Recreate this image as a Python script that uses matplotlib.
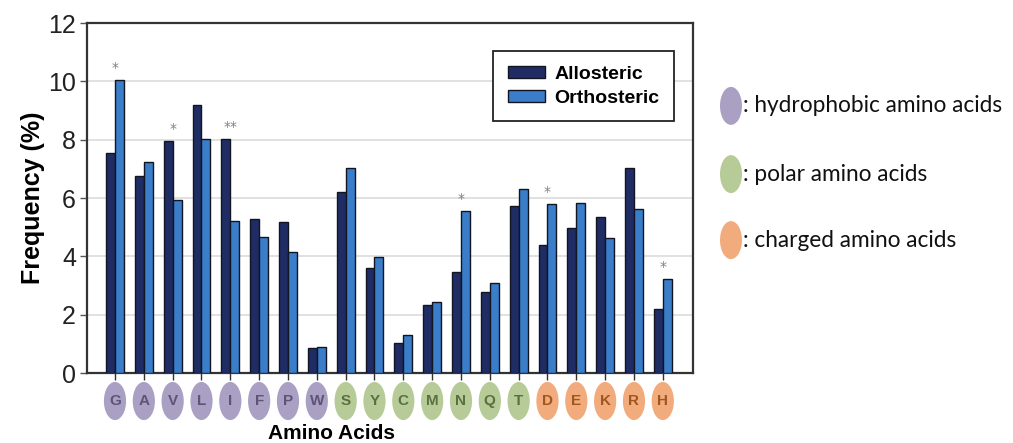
import numpy as np
import matplotlib.pyplot as plt
from matplotlib.patches import Ellipse

# amino acids and their frequencies (%)
amino = ['G', 'A', 'V', 'L', 'I', 'F', 'P', 'W', 'S', 'Y', 'C', 'M', 'N', 'Q', 'T', 'D', 'E', 'K', 'R', 'H']
groups = ['hydrophobic'] * 8 + ['polar'] * 7 + ['charged'] * 5
allosteric = [7.55, 6.77, 7.94, 9.2, 8.02, 5.27, 5.19, 0.86, 6.21, 3.61,
              1.04, 2.33, 3.47, 2.78, 5.74, 4.38, 4.98, 5.36, 7.02, 2.21]
orthosteric = [10.03, 7.24, 5.93, 8.02, 5.2, 4.66, 4.15, 0.89, 7.02, 3.97,
               1.32, 2.42, 5.56, 3.07, 6.32, 5.78, 5.82, 4.63, 5.61, 3.21]
stars = ['*', '', '*', '', '**', '', '', '', '', '', '', '', '*', '', '', '*', '', '', '', '*']

fill = {'hydrophobic': '#aaa0c4', 'polar': '#b7cb98', 'charged': '#f1ab7c'}
ink = {'hydrophobic': '#5f5478', 'polar': '#5a703f', 'charged': '#a0561f'}
legend_text = {'hydrophobic': ': hydrophobic amino acids',
               'polar': ': polar amino acids',
               'charged': ': charged amino acids'}

fig = plt.figure(figsize=(10.13, 4.43), dpi=100)
ax = fig.add_axes([0.0859, 0.158, 0.598, 0.790])

x = np.arange(len(amino))
w = 0.31
ax.bar(x - w / 2, allosteric, w, color='#1f2d64', edgecolor='#111522', linewidth=1,
       label='Allosteric', zorder=3)
ax.bar(x + w / 2, orthosteric, w, color='#3a7dc9', edgecolor='#111522', linewidth=1,
       label='Orthosteric', zorder=3)

for i, s in enumerate(stars):
    if s:
        top = max(allosteric[i], orthosteric[i])
        ax.text(x[i], top + 0.42, s, ha='center', va='center', fontsize=10,
                color='#808080')

ax.set_xlim(-0.97, 20.04)
ax.set_ylim(0, 12)
ax.set_yticks(range(0, 13, 2))
ax.grid(axis='y', color='#dcdcdc', linewidth=1.2, zorder=0)
ax.tick_params(axis='y', length=5, width=1, color='#555555', pad=3, labelsize=18,
               labelcolor='#222222')
ax.set_xticks(x)
ax.set_xticklabels([])
ax.tick_params(axis='x', length=5, width=1, color='#333333', direction='out')
for sp in ax.spines.values():
    sp.set_linewidth(1.6)
    sp.set_color('#333333')

ax.set_ylabel('Frequency (%)', fontsize=18, fontweight='bold', labelpad=2,
              family='Liberation Sans')
for t in ax.get_yticklabels():
    t.set_family('Liberation Sans')

leg = ax.legend(loc='upper right', bbox_to_anchor=(0.985, 0.947), fancybox=False,
                edgecolor='#222222', framealpha=1,
                prop={'family': 'Liberation Sans', 'weight': 'bold', 'size': 14},
                handlelength=1.9, handleheight=0.55, handletextpad=0.5,
                borderpad=0.75, labelspacing=0.35)
leg.get_frame().set_linewidth(1.3)

# coloured ellipses under the axis
for i, (a, g) in enumerate(zip(amino, groups)):
    ax.add_patch(Ellipse((x[i], -0.08), 0.77, 0.109, transform=ax.get_xaxis_transform(),
                         facecolor=fill[g], edgecolor='none', clip_on=False))
    ax.text(x[i], -0.08, a, transform=ax.get_xaxis_transform(), ha='center', va='center',
            fontsize=11, fontweight='bold', color=ink[g], family='Liberation Sans')

fig.text(0.327, 0.008, 'Amino Acids', ha='center', va='baseline', fontsize=15,
         fontweight='bold', family='Liberation Sans')

# group key on the right
for g, yy in zip(['hydrophobic', 'polar', 'charged'], [0.761, 0.607, 0.458]):
    fig.patches.append(Ellipse((0.7216, yy), 0.0217, 0.0858, transform=fig.transFigure,
                               facecolor=fill[g], edgecolor='none'))
    fig.text(0.7335, yy, legend_text[g], ha='left', va='center', fontsize=16.3,
             family='Lato', color='#111111')

fig.savefig('out.png', dpi=100)
